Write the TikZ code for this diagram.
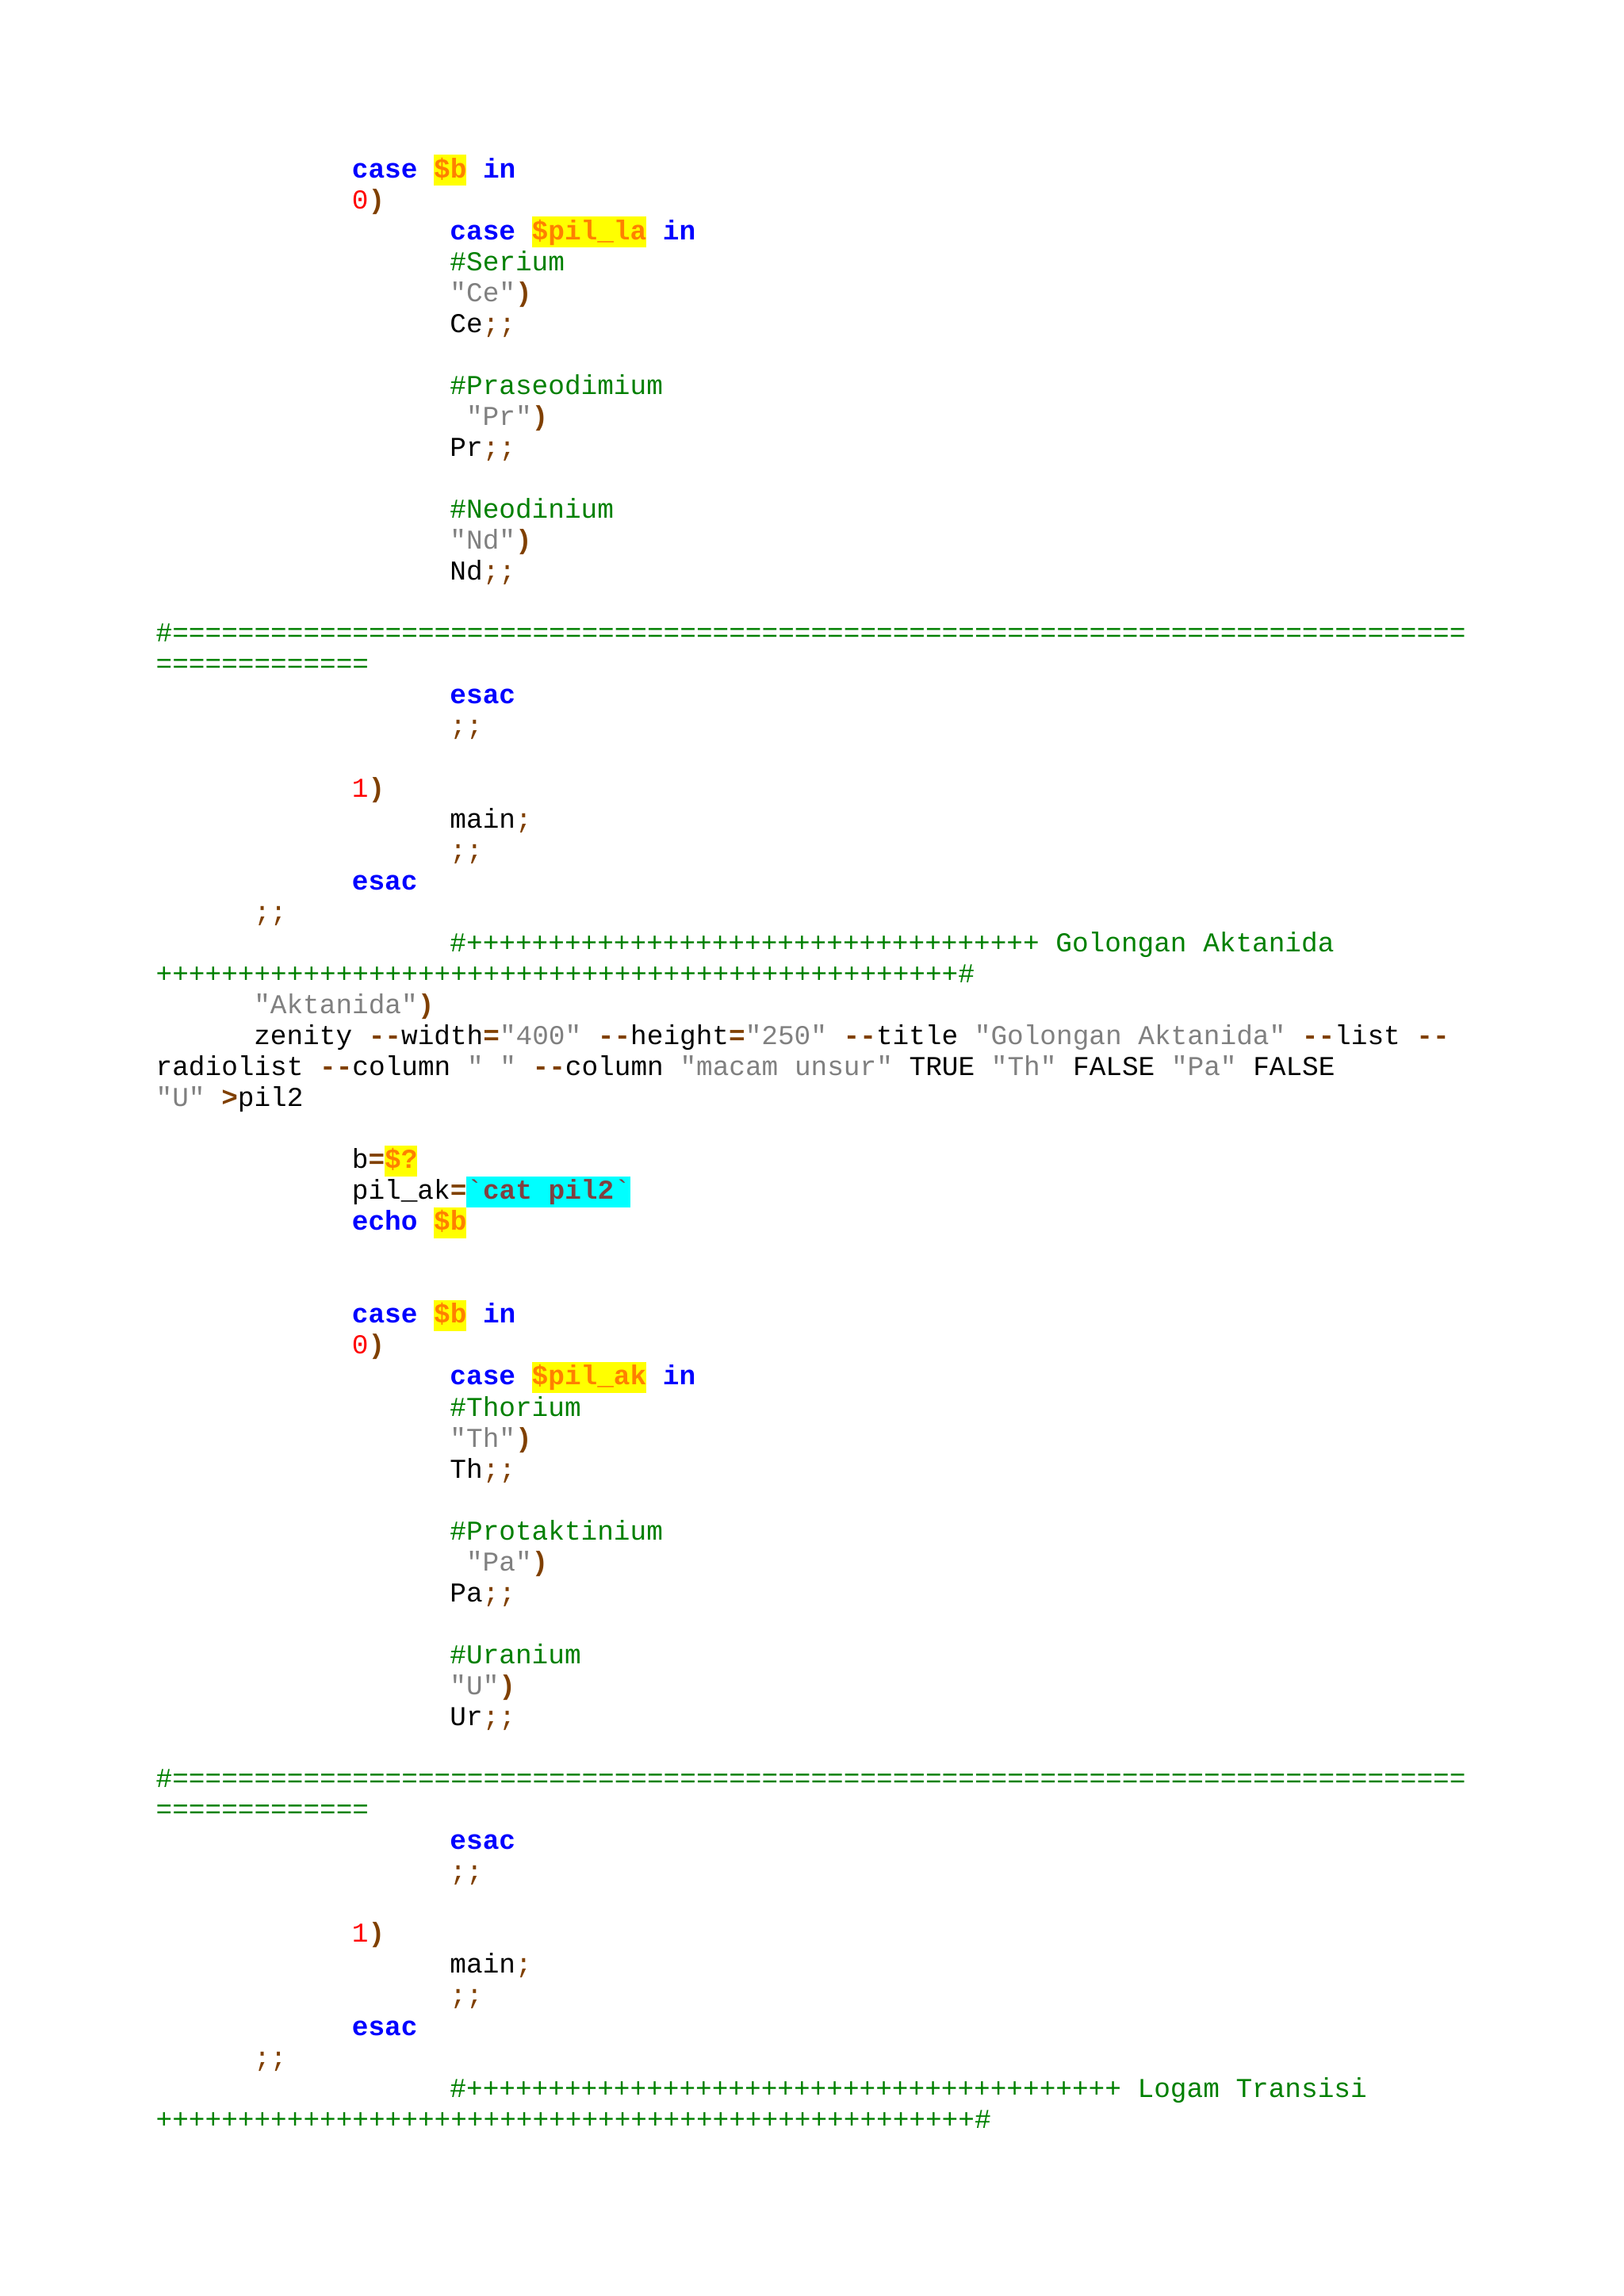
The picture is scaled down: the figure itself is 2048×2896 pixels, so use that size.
\documentclass[tikz,border=0pt]{standalone}
\usepackage{fontspec}
\setmonofont{Liberation Mono}
\definecolor{kwc}{HTML}{0000FF}
\definecolor{varc}{HTML}{FF8000}
\definecolor{strc}{HTML}{808080}
\definecolor{cmc}{HTML}{008000}
\definecolor{opc}{HTML}{804000}
\definecolor{numc}{HTML}{FF0000}
\definecolor{bqc}{HTML}{804040}
\definecolor{hlyel}{HTML}{FFFF00}
\definecolor{hlcyan}{HTML}{00FFFF}
\newcommand\kw[1]{\textcolor{kwc}{\bfseries #1}}
\newcommand\hlbox[2]{{\setlength\fboxsep{0pt}\colorbox{#1}{\rule[-3bp]{0pt}{11.4bp}#2}}}
\newcommand\vr[1]{\hlbox{hlyel}{\textcolor{varc}{\bfseries #1}}}
\newcommand\st[1]{\textcolor{strc}{#1}}
\newcommand\cm[1]{\textcolor{cmc}{#1}}
\newcommand\op[1]{\textcolor{opc}{\bfseries #1}}
\newcommand\semi[1]{\textcolor{opc}{#1}}
\newcommand\nm[1]{\textcolor{numc}{#1}}
\newcommand\rpt[2]{\foreach\ii in {1,...,#1}{#2}}
\begin{document}
\begin{tikzpicture}[x=0.2906bp,y=-0.2906bp,
  ln/.style={anchor=base west,inner sep=0pt,font=\ttfamily\fontsize{10bp}{11.4bp}\selectfont}]
\useasboundingbox[fill=white] (0,0) rectangle (2048,2896);
\def\L#1#2#3{\node[ln] (l#1) at ({196+20.6*#2},{224+39.05*#1}) {#3};}
\L{0}{12}{\kw{case} \vr{\$b} \kw{in}}
\L{1}{12}{\nm{0}\op{)}}
\L{2}{18}{\kw{case} \vr{\$pil\_la} \kw{in}}
\L{3}{18}{\cm{\#Serium}}
\L{4}{18}{\st{"Ce"}\op{)}}
\L{5}{18}{Ce\semi{;;}}
\L{7}{18}{\cm{\#Praseodimium}}
\L{8}{19}{\st{"Pr"}\op{)}}
\L{9}{18}{Pr\semi{;;}}
\L{11}{18}{\cm{\#Neodinium}}
\L{12}{18}{\st{"Nd"}\op{)}}
\L{13}{18}{Nd\semi{;;}}
\L{15}{0}{\cm{\#\rpt{79}{=}}}
\L{16}{0}{\cm{\rpt{13}{=}}}
\L{17}{18}{\kw{esac}}
\L{18}{18}{\semi{;;}}
\L{20}{12}{\nm{1}\op{)}}
\L{21}{18}{main\semi{;}}
\L{22}{18}{\semi{;;}}
\L{23}{12}{\kw{esac}}
\L{24}{6}{\semi{;;}}
\L{25}{18}{\cm{\#\rpt{35}{+} Golongan Aktanida}}
\L{26}{0}{\cm{\rpt{49}{+}\#}}
\L{27}{6}{\st{"Aktanida"}\op{)}}
\L{28}{6}{zenity \op{-{}-}width\op{=}\st{"400"} \op{-{}-}height\op{=}\st{"250"} \op{-{}-}title \st{"Golongan Aktanida"} \op{-{}-}list \op{-{}-}}
\L{29}{0}{radiolist \op{-{}-}column \st{" "} \op{-{}-}column \st{"macam unsur"} TRUE \st{"Th"} FALSE \st{"Pa"} FALSE}
\L{30}{0}{\st{"U"} \op{>}pil2}
\L{32}{12}{b\op{=}\vr{\$?}}
\L{33}{12}{pil\_ak\op{=}\hlbox{hlcyan}{\textcolor{bqc}{`\textbf{cat pil2}`}}}
\L{34}{12}{\kw{echo} \vr{\$b}}
\L{37}{12}{\kw{case} \vr{\$b} \kw{in}}
\L{38}{12}{\nm{0}\op{)}}
\L{39}{18}{\kw{case} \vr{\$pil\_ak} \kw{in}}
\L{40}{18}{\cm{\#Thorium}}
\L{41}{18}{\st{"Th"}\op{)}}
\L{42}{18}{Th\semi{;;}}
\L{44}{18}{\cm{\#Protaktinium}}
\L{45}{19}{\st{"Pa"}\op{)}}
\L{46}{18}{Pa\semi{;;}}
\L{48}{18}{\cm{\#Uranium}}
\L{49}{18}{\st{"U"}\op{)}}
\L{50}{18}{Ur\semi{;;}}
\L{52}{0}{\cm{\#\rpt{79}{=}}}
\L{53}{0}{\cm{\rpt{13}{=}}}
\L{54}{18}{\kw{esac}}
\L{55}{18}{\semi{;;}}
\L{57}{12}{\nm{1}\op{)}}
\L{58}{18}{main\semi{;}}
\L{59}{18}{\semi{;;}}
\L{60}{12}{\kw{esac}}
\L{61}{6}{\semi{;;}}
\L{62}{18}{\cm{\#\rpt{40}{+} Logam Transisi}}
\L{63}{0}{\cm{\rpt{50}{+}\#}}
\end{tikzpicture}
\end{document}
